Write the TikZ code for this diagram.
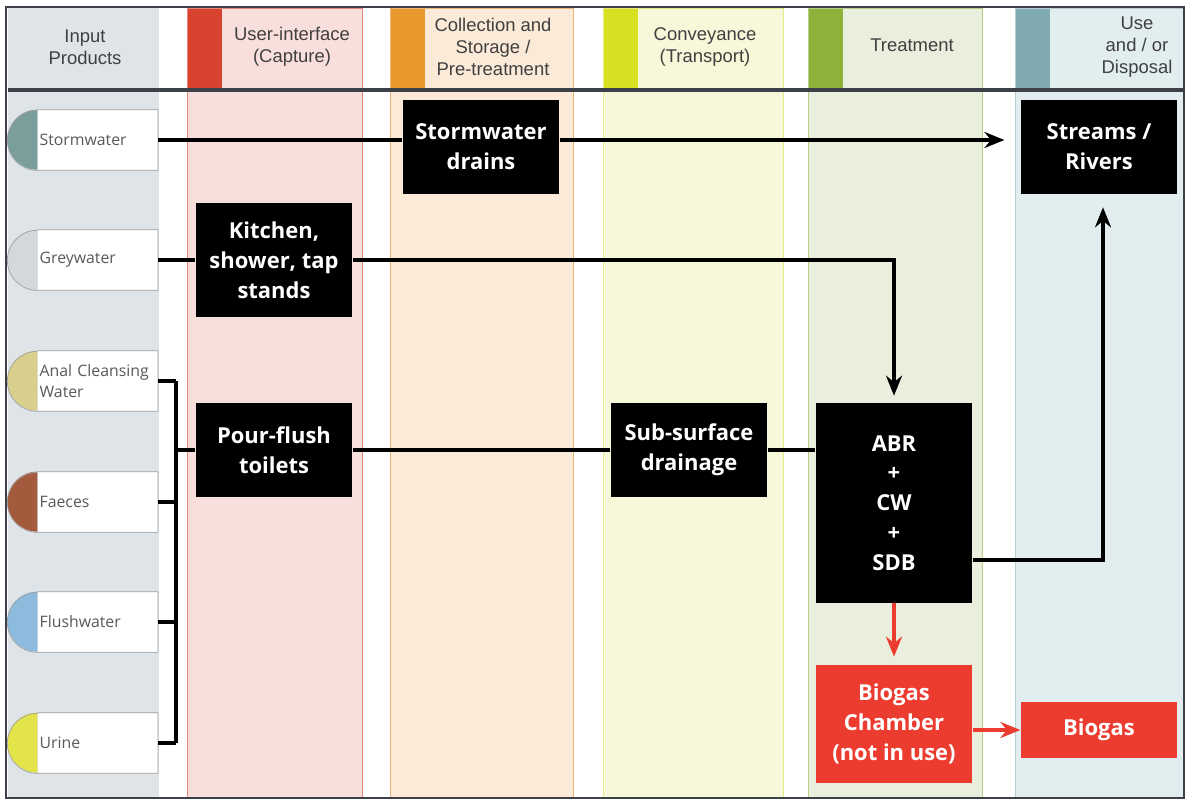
\documentclass[tikz,border=0pt]{standalone}
\usepackage{fontspec}
\setmainfont{Liberation Sans}
\newfontfamily\labelfont{Open Sans}
\usetikzlibrary{arrows.meta, positioning}

\definecolor{inputgray}{HTML}{DFE4E9}
\definecolor{uipink}{HTML}{F9DFDB}
\definecolor{uibar}{HTML}{D8432F}
\definecolor{uiedge}{HTML}{E8867C}
\definecolor{colpeach}{HTML}{FBEAD8}
\definecolor{colbar}{HTML}{E8992B}
\definecolor{coledge}{HTML}{F0B677}
\definecolor{convyellow}{HTML}{F7F8DA}
\definecolor{convbar}{HTML}{D8E022}
\definecolor{convedge}{HTML}{E4EA84}
\definecolor{treatgreen}{HTML}{E9EFDC}
\definecolor{treatbar}{HTML}{8EB33B}
\definecolor{treatedge}{HTML}{B9CF84}
\definecolor{useblue}{HTML}{E2EDF0}
\definecolor{usebar}{HTML}{7FAAB2}
\definecolor{useedge}{HTML}{B6CDD3}
\definecolor{framecol}{HTML}{3C4048}
\definecolor{gasred}{HTML}{EC3B2F}
\definecolor{swcol}{HTML}{7A9E9C}
\definecolor{gwcol}{HTML}{D4D8DC}
\definecolor{acwcol}{HTML}{D9CF8C}
\definecolor{faecol}{HTML}{A45A3C}
\definecolor{flwcol}{HTML}{8DBBDD}
\definecolor{uricol}{HTML}{E3E34A}

\def\bw{3.13cm}
\def\bh{1.88cm}
\tikzset{
    process/.style = {
        fill=black, text=white, align=center, inner sep=0pt,
        minimum width=\bw, minimum height=\bh,
        font=\labelfont\bfseries\fontsize{12.5}{17}\selectfont
    },
    gasbox/.style = {process, fill=gasred},
    header/.style = {align=center, text=black!75, font=\fontsize{10.5}{12.5}\selectfont},
    product/.style = {
        rectangle, fill=white, minimum width=2.4cm, minimum height=1.2cm,
        text width=2.32cm, inner xsep=0.04cm, align=left, anchor=east,
        text=black!65, font=\labelfont\fontsize{9}{12}\selectfont
    },
    pics/Product/.style 2 args = {
        code = {
            \node [product] (-box) {#1};
            \fill[#2] (-box.north west) arc[start angle=90, end angle=270, radius=0.6cm] -- cycle;
            \draw[gray!75] (-box.north west) -- (-box.north east) -- (-box.south east) -- (-box.south west)
                arc[start angle=270, end angle=90, radius=0.6cm];
    }}
    }

\begin{document}
\begin{tikzpicture}[x=0.02cm, y=-0.02cm]
    \useasboundingbox (0,0) rectangle (1189,803);
    % Column backgrounds
    \foreach \xa/\xb/\bg/\bar/\edge in {8/158/inputgray/inputgray/inputgray,
        187/362/uipink/uibar/uiedge, 390/573/colpeach/colbar/coledge,
        603/783/convyellow/convbar/convedge, 808/982/treatgreen/treatbar/treatedge,
        1015/1183/useblue/usebar/useedge}{
        \fill[\bg] (\xa,8) rectangle (\xb,797);
        \fill[\bar] (\xa,8) rectangle (\xa+35,90);
        \draw[\edge] (\xa,8) rectangle (\xb,797);
    }
    \draw[framecol, line width=2pt] (8,90) -- (1183,90);
    \draw[framecol, line width=1.6pt] (6,7) rectangle (1184,798);

    % Headers
    \node[header] (hinput) at (85,47) {Input\\Products};
    \node[header] (hcapture) at (292,47) {User-interface\\(Capture)};
    \node[header] (hstorage) at (493,47) {Collection and\\Storage /\\Pre-treatment};
    \node[header] (hconvey) at (705,47) {Conveyance\\(Transport)};
    \node[header] (htreat) at (912,45) {Treatment};
    \node[header] (huse) at (1137,47) {Use\\and / or\\Disposal};

    % Input products
    \pic (sw) at (158,140) {Product={Stormwater}{swcol}};
    \pic (gw) at (158,260) {Product={Greywater}{gwcol}};
    \pic (acw) at (158,381) {Product={Anal Cleansing\\Water}{acwcol}};
    \pic (fae) at (158,502) {Product={Faeces}{faecol}};
    \pic (flw) at (158,622) {Product={Flushwater}{flwcol}};
    \pic (uri) at (158,743) {Product={Urine}{uricol}};

    % Place the blocks
    \node[process] (drains) at (481,147) {Stormwater\\drains};
    \node[process, minimum height=2.28cm] (kitchen) at (274,260) {Kitchen,\\shower, tap\\stands};
    \node[process] (pour) at (274,450) {Pour-flush\\toilets};
    \node[process] (subsurface) at (689,450) {Sub-surface\\drainage};
    \node[process, minimum height=4cm] (abr) at (894,503) {ABR\\+\\CW\\+\\SDB};
    \node[process] (rivers) at (1099,147) {Streams /\\Rivers};
    \node[gasbox, minimum height=2.36cm] (chamber) at (894,724) {Biogas\\Chamber\\(not in use)};
    \node[gasbox, minimum height=1.12cm] (biogas) at (1099,730) {Biogas};

    \coordinate (bus) at (176,450);
    \begin{scope}[line width=2.4pt, >={Stealth[length=0.4cm, width=0.32cm]}]
        \draw (sw-box.east) -- (sw-box.east -| drains.west);
        \draw[->, shorten >=0.32cm] (drains.east |- sw-box.east) -- (sw-box.east -| rivers.west);
        \draw (gw-box.east) -- (kitchen.west);
        \draw[->, shorten >=0.14cm] (kitchen.east) -| (abr.north);
        \foreach \p in {acw, fae, flw, uri}
            \draw (\p-box.east) -- (\p-box.east -| bus);
        \draw (acw-box.east -| bus) -- (uri-box.east -| bus);
        \draw (bus) -- (pour.west);
        \draw (pour.east) -- (subsurface.west);
        \draw (subsurface.east) -- (subsurface.east -| abr.west);
        \draw[->, shorten >=0.26cm] ([yshift=-1.14cm]abr.east) -| ([xshift=0.08cm]rivers.south);
        \draw[->, gasred, shorten >=0.16cm] (abr.south) -- (chamber.north);
        \draw[->, gasred] (chamber.east |- biogas.west) -- (biogas.west);
    \end{scope}
\end{tikzpicture}
\end{document}
